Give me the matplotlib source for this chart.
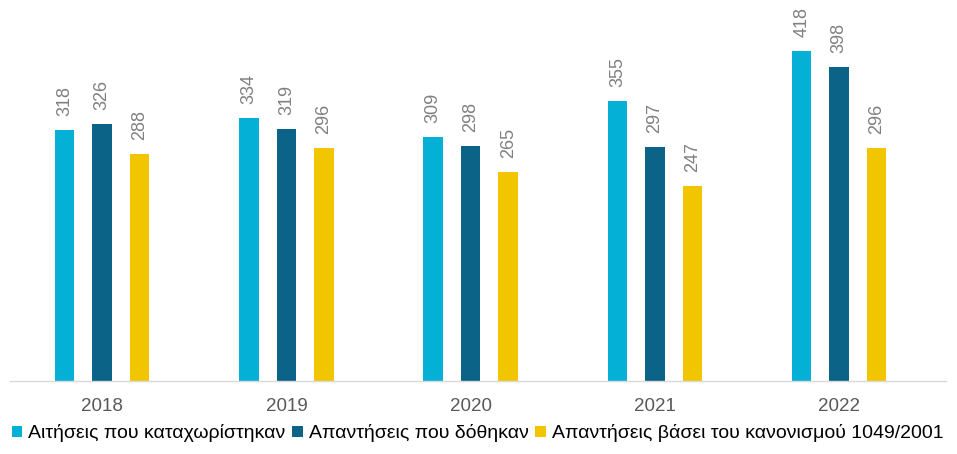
import matplotlib
matplotlib.use("Agg")
import matplotlib.pyplot as plt
import numpy as np

years = ["2018", "2019", "2020", "2021", "2022"]
registered = [318, 334, 309, 355, 418]
answered = [326, 319, 298, 297, 398]
reg_1049 = [288, 296, 265, 247, 296]
series_labels = [
    "Αιτήσεις που καταχωρίστηκαν",
    "Απαντήσεις που δόθηκαν",
    "Απαντήσεις βάσει του κανονισμού 1049/2001",
]
colors = ["#05B0D6", "#0B6488", "#F1C600"]

plt.rcParams["font.family"] = ["Liberation Sans", "DejaVu Sans"]

fig = plt.figure(figsize=(9.57, 4.54), dpi=100)
ax = fig.add_axes([10 / 957, 73 / 454, 936 / 957, 381 / 454])

x = np.arange(len(years))
width = 0.106
offset = 0.2035
for i, (vals, color, label) in enumerate(zip([registered, answered, reg_1049], colors, series_labels)):
    pos = x + (i - 1) * offset
    ax.bar(pos, vals, width=width, color=color, label=label)
    for px, v in zip(pos, vals):
        ax.annotate(str(v), (px, v), xytext=(0, 10), textcoords="offset points",
                    rotation=90, ha="center", va="bottom", fontsize=13, color="#808080")

ax.set_xlim(-0.5, 4.58)
ax.set_ylim(0, 483)
ax.set_xticks(x)
ax.set_xticklabels(years, fontsize=13.5, color="#595959")
ax.tick_params(axis="x", length=0, pad=12)
ax.set_yticks([])
for side in ["top", "right", "left"]:
    ax.spines[side].set_visible(False)
ax.spines["bottom"].set_color("#D9D9D9")
ax.spines["bottom"].set_linewidth(1)

fig.legend(loc="lower left", bbox_to_anchor=(0.0, 0.0), ncol=3, frameon=False,
           fontsize=14, handlelength=0.55, handleheight=0.55, handletextpad=0.3,
           columnspacing=0.35, borderaxespad=0.2)

fig.savefig("out.png", dpi=100)
